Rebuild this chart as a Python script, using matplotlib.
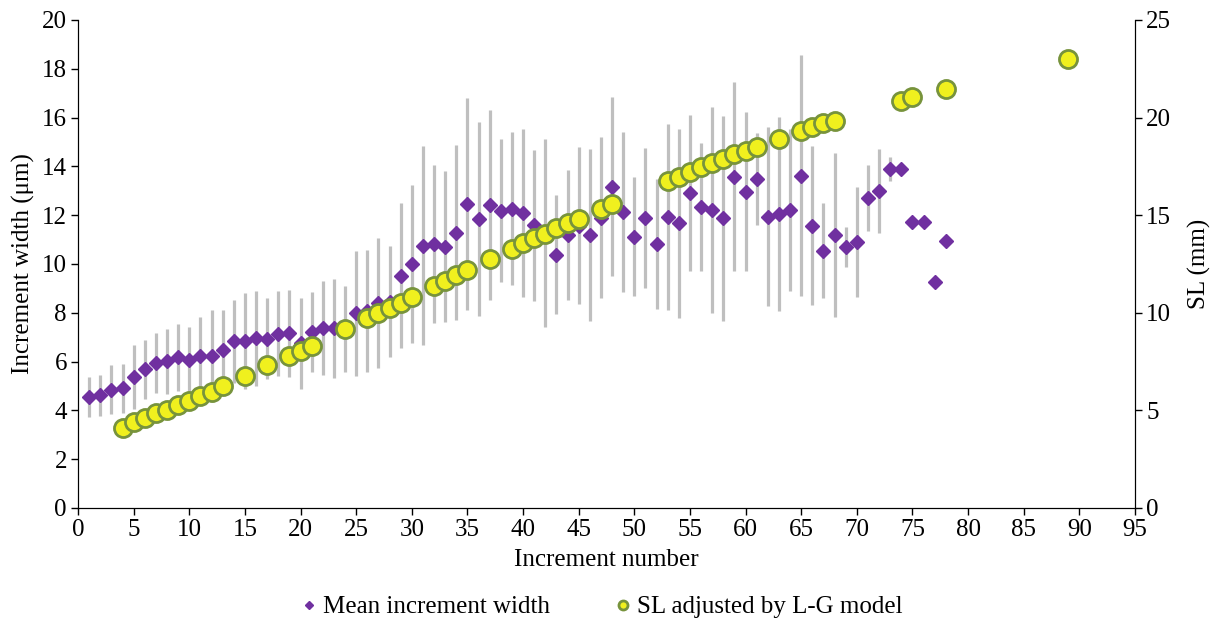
import numpy as np
import matplotlib.pyplot as plt

plt.rcParams['font.family'] = ['Liberation Serif', 'DejaVu Serif']

# mean increment width (um) for increments 1..78
inc = list(range(1, 79))
mean_w = [4.56, 4.62, 4.85, 4.90, 5.38, 5.68, 5.93, 6.01, 6.17, 6.07,
          6.21, 6.24, 6.49, 6.83, 6.86, 6.95, 6.94, 7.14, 7.16, 6.75,
          7.21, 7.38, 7.36, 7.35, 7.98, 8.08, 8.40, 8.46, 9.52, 10.0,
          10.74, 10.82, 10.71, 11.29, 12.47, 11.84, 12.42, 12.19, 12.27, 12.09,
          11.58, 11.26, 10.38, 11.19, 11.57, 11.19, 11.90, 13.17, 12.12, 11.12,
          11.89, 10.82, 11.92, 11.67, 12.92, 12.32, 12.21, 11.87, 13.58, 12.96,
          13.48, 11.94, 12.05, 12.21, 13.62, 11.57, 10.55, 11.19, 10.71, 10.89,
          12.69, 13.00, 13.89, 13.89, 11.73, 11.73, 9.27, 10.94]
# standard deviation, increments 1..73 (none after)
sd_w = [0.81, 0.84, 1.01, 1.02, 1.31, 1.21, 1.23, 1.34, 1.39, 1.33,
        1.63, 1.89, 1.61, 1.69, 1.97, 1.96, 1.65, 1.75, 1.78, 1.86,
        1.63, 1.92, 2.04, 1.76, 2.55, 2.50, 2.66, 2.29, 2.96, 3.23,
        4.08, 3.23, 3.09, 3.58, 4.34, 3.98, 3.91, 2.94, 3.14, 3.45,
        3.09, 3.86, 2.43, 2.68, 3.21, 3.54, 3.31, 3.66, 3.27, 2.45,
        2.87, 2.67, 3.80, 3.88, 3.20, 2.62, 4.22, 4.20, 3.87, 3.25,
        1.88, 3.68, 3.97, 3.31, 4.93, 3.25, 1.94, 3.35, 0.82, 2.25,
        1.35, 1.72, 0.50]

# SL adjusted by L-G model (mm)
sl_x = [4, 5, 6, 7, 8, 9, 10, 11, 12, 13, 15, 17, 19, 20, 21, 24, 26, 27, 28, 29,
        30, 32, 33, 34, 35, 37, 39, 40, 41, 42, 43, 44, 45, 47, 48, 53, 54, 55, 56, 57,
        58, 59, 60, 61, 63, 65, 66, 67, 68, 74, 75, 78, 89]
sl_mm = [4.11, 4.39, 4.63, 4.85, 5.02, 5.28, 5.50, 5.75, 5.96, 6.25,
         6.76, 7.31, 7.79, 8.06, 8.31, 9.17, 9.72, 10.0, 10.26, 10.52,
         10.79, 11.39, 11.65, 11.94, 12.19, 12.74, 13.28, 13.56, 13.82, 14.04,
         14.33, 14.58, 14.80, 15.30, 15.57, 16.75, 16.97, 17.23, 17.45, 17.69,
         17.88, 18.12, 18.29, 18.48, 18.90, 19.31, 19.50, 19.71, 19.83, 20.87,
         21.03, 21.47, 23.0]

fig = plt.figure(figsize=(12.15, 6.22), dpi=100)
ax = fig.add_axes([78/1215, 1 - 508/622, (1135-78)/1215, (508-20)/622])

n = len(sd_w)
ax.errorbar(inc[:n], mean_w[:n], yerr=sd_w, fmt='none', ecolor='#bfbfbf',
            elinewidth=2.3, capsize=0, zorder=1)
ax.plot(inc, mean_w, linestyle='none', marker='D', ms=7.5, color='#7030a0',
        mec='#7030a0', zorder=2, label='Mean increment width')

ax.set_xlim(0, 95)
ax.set_ylim(0, 20)
ax.set_xticks(range(0, 96, 5))
ax.set_yticks(range(0, 21, 2))
ax.set_xlabel('Increment number', fontsize=18, labelpad=6)
ax.set_ylabel('Increment width (\u03bcm)', fontsize=18, labelpad=5)
ax.tick_params(labelsize=18, length=5, direction='out', width=1, pad=3)
ax.spines['top'].set_visible(False)

ax2 = ax.twinx()
ax2.plot(sl_x, sl_mm, linestyle='none', marker='o', ms=13, mfc='#f0f01e',
         mec='#77933c', mew=2, label='SL adjusted by L-G model')
ax2.set_ylim(0, 25)
ax2.set_yticks(range(0, 26, 5))
ax2.set_ylabel('SL (mm)', fontsize=18, labelpad=12)
ax2.tick_params(labelsize=18, length=5, direction='out', width=1, pad=3)
ax2.spines['top'].set_visible(False)

h1, l1 = ax.get_legend_handles_labels()
h2, l2 = ax2.get_legend_handles_labels()
leg = fig.legend(h1 + h2, l1 + l2, loc='center', bbox_to_anchor=(0.494, 0.024),
                 ncol=2, frameon=False, fontsize=18, columnspacing=2.5,
                 handletextpad=0.1, handlelength=0.9, markerscale=0.5)

fig.savefig('out.png', dpi=100)
